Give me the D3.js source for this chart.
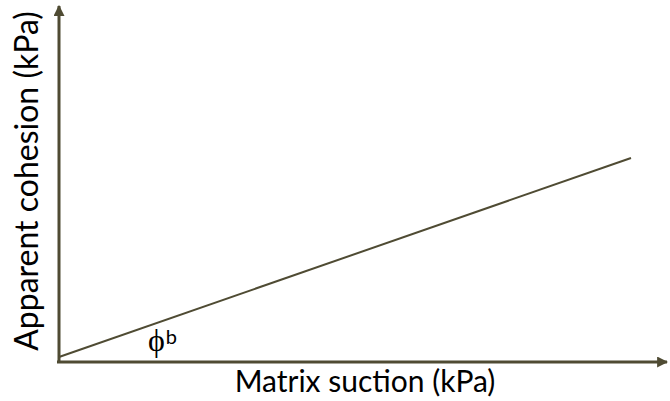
<!DOCTYPE html>
<html>
<head>
<meta charset="utf-8">
<script src="https://cdn.jsdelivr.net/npm/d3@7"></script>
<style>
  body { margin: 0; background: #fff; }
  svg { display: block; }
  .axis-label { font-family: Lato, "Open Sans", sans-serif; fill: #000; }
</style>
</head>
<body>
<div id="chart"></div>
<script>
// Data: matrix suction vs apparent cohesion (arbitrary kPa units)
var suction = [0, 572];
var cohesion = [5, 204];
var xAxisLabel = "Matrix suction (kPa)";
var yAxisLabel = "Apparent cohesion (kPa)";
var angleLabel = "\u03D5";
var angleSup = "b";

var containerwidth = 670;
var containerheight = 401;
var axisColor = "#4f4b33";

var svg = d3.select("#chart")
  .append("svg")
  .attr("width", containerwidth)
  .attr("height", containerheight);

// scales: origin at (59, 362)
var xScale = d3.scaleLinear().domain([0, 608]).range([59, 667]);
var yScale = d3.scaleLinear().domain([0, 356]).range([362, 6]);

// arrow marker
var defs = svg.append("defs");
defs.append("marker")
  .attr("id", "arrow")
  .attr("viewBox", "0 0 10 10")
  .attr("refX", 9)
  .attr("refY", 5)
  .attr("markerUnits", "userSpaceOnUse")
  .attr("markerWidth", 11)
  .attr("markerHeight", 11)
  .attr("orient", "auto")
  .append("path")
  .attr("d", "M0,0 L10,5 L0,10 Z")
  .attr("fill", axisColor);

// axes
svg.append("line")
  .attr("x1", xScale(0) - 2).attr("y1", yScale(0))
  .attr("x2", xScale(608)).attr("y2", yScale(0))
  .attr("stroke", axisColor)
  .attr("stroke-width", 3)
  .attr("marker-end", "url(#arrow)");

svg.append("line")
  .attr("x1", xScale(0)).attr("y1", yScale(0) + 1)
  .attr("x2", xScale(0)).attr("y2", yScale(356))
  .attr("stroke", axisColor)
  .attr("stroke-width", 3)
  .attr("marker-end", "url(#arrow)");

// data line
var lineData = suction.map(function(s, i) { return [s, cohesion[i]]; });
var line = d3.line()
  .x(function(d) { return xScale(d[0]); })
  .y(function(d) { return yScale(d[1]); });

svg.append("path")
  .datum(lineData)
  .attr("d", line)
  .attr("fill", "none")
  .attr("stroke", axisColor)
  .attr("stroke-width", 2);

// axis labels
svg.append("text")
  .attr("class", "axis-label")
  .attr("x", 365)
  .attr("y", 392)
  .attr("text-anchor", "middle")
  .style("font-size", "30px")
  .text(xAxisLabel);

svg.append("text")
  .attr("class", "axis-label")
  .attr("transform", "translate(38,181) rotate(-90)")
  .attr("text-anchor", "middle")
  .style("font-size", "32px")
  .text(yAxisLabel);

// phi^b angle label
var phi = svg.append("text")
  .attr("x", 148)
  .attr("y", 351)
  .style("font-family", "'Liberation Serif', 'DejaVu Serif', serif")
  .style("font-size", "32px")
  .attr("fill", "#000")
  .text(angleLabel);
phi.append("tspan")
  .attr("dx", 1)
  .attr("dy", -7)
  .style("font-family", "Lato, 'Open Sans', sans-serif")
  .style("font-size", "20px")
  .text(angleSup);
</script>
</body>
</html>
